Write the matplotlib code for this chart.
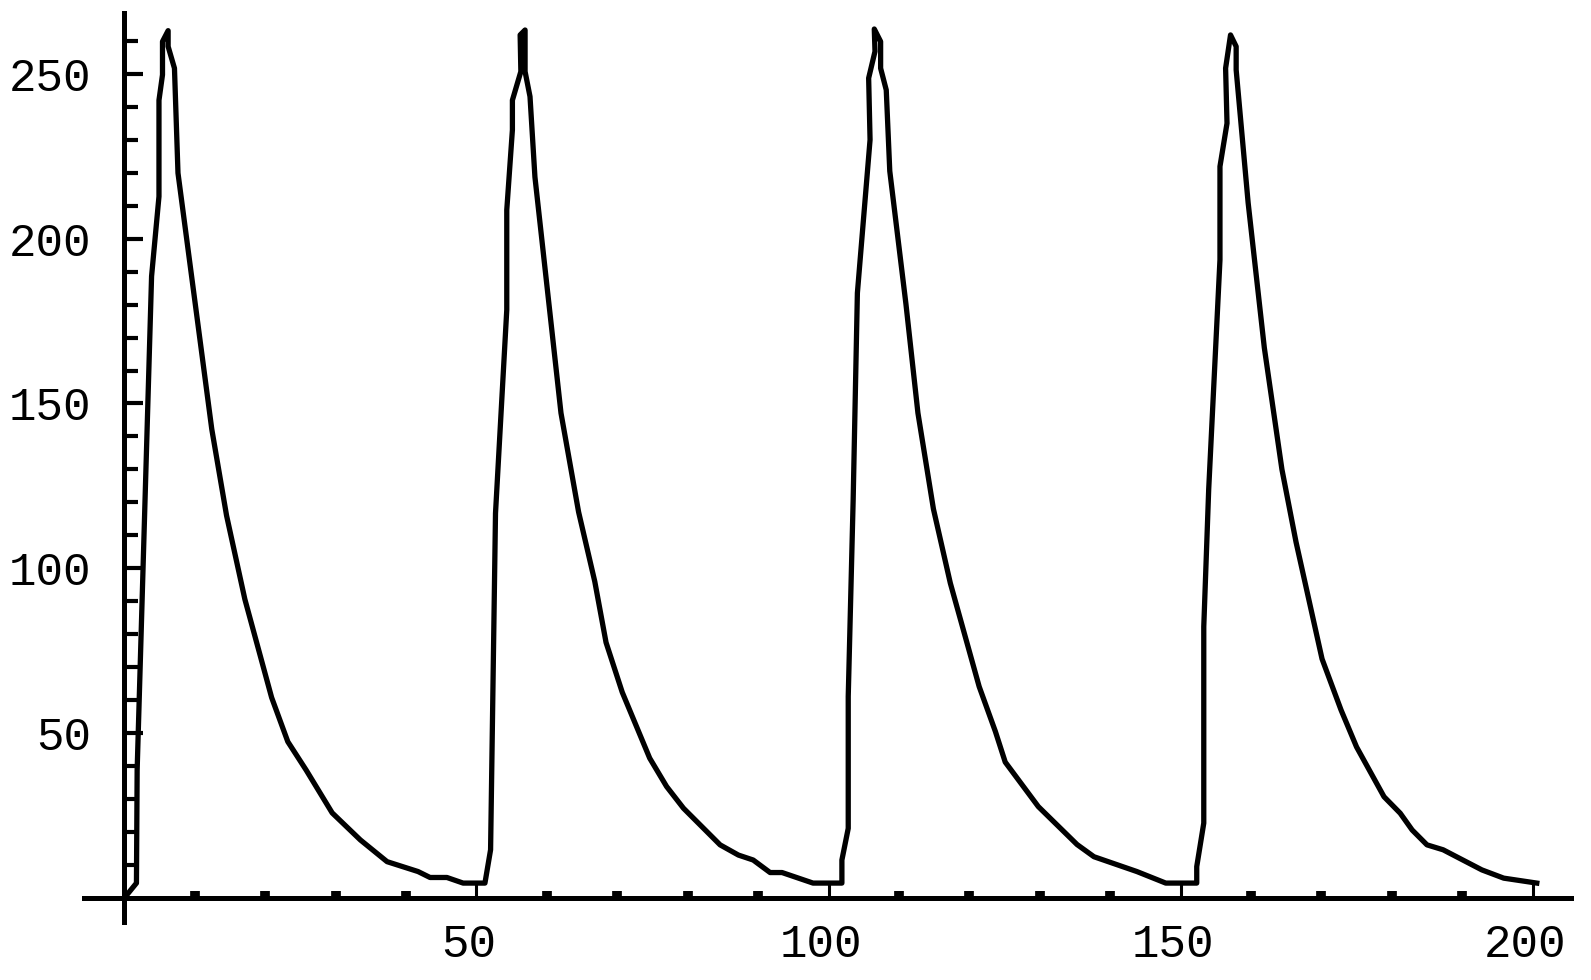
import matplotlib
matplotlib.use("Agg")
import matplotlib.pyplot as plt
import matplotlib.transforms as mtransforms
import numpy as np

# 4 pulses, each ~50 units long
t = [0.1, 1.7, 1.8, 3.85, 4.9, 4.9, 5.4, 5.4, 6.2, 6.2, 7.1, 7.6,
     12.4, 14.5, 17.1, 20.9, 23.2, 25.8, 29.5, 33.5, 37.3, 41.7, 43.4, 45.8, 48.1, 51.2,
     52.0, 52.7, 54.3, 54.3, 55.1, 55.1, 56.3, 56.2, 56.9, 56.9, 57.6, 58.3,
     62.0, 64.5, 66.8, 68.4, 70.7, 74.6, 77.0, 79.4, 84.6, 87.2, 89.3, 91.7, 93.4, 97.8, 101.9,
     101.9, 102.8, 102.8, 103.5, 104.1, 105.9, 105.7, 106.6, 106.5, 107.4, 107.4, 108.2, 108.7,
     111.0, 112.7, 114.9, 117.3, 121.4, 123.7, 125.1, 129.8, 135.3, 137.7, 143.8, 147.9, 152.3,
     152.3, 153.3, 153.3, 154.0, 155.6, 155.6, 156.6, 156.4, 157.1, 157.9, 157.9,
     159.6, 161.9, 164.4, 166.4, 170.1, 172.8, 175.0, 178.9, 181.2, 182.9, 185.0, 187.3,
     192.8, 195.9, 200.6]
v = [0.3, 4.5, 38.8, 188.6, 212.8, 242.0, 249.7, 259.8, 263.1, 258.3, 251.7, 219.9,
     142.2, 116.0, 90.6, 60.8, 47.4, 38.8, 25.8, 17.6, 11.0, 8.0, 6.2, 6.2, 4.5, 4.5,
     14.6, 116.7, 178.4, 208.7, 233.0, 242.0, 250.7, 261.8, 263.3, 250.7, 243.1, 218.7,
     147.1, 117.1, 96.0, 77.5, 62.4, 42.4, 33.8, 27.2, 16.1, 13.0, 11.5, 7.7, 7.7, 4.5, 4.5,
     11.5, 21.1, 61.1, 120.8, 183.5, 230.0, 248.7, 256.8, 263.6, 259.8, 251.7, 245.1, 220.5,
     180.1, 147.1, 118.0, 95.5, 64.1, 50.5, 41.2, 27.7, 16.2, 12.5, 8.0, 4.5, 4.5,
     9.5, 22.7, 82.3, 124.0, 193.6, 221.9, 235.0, 251.7, 261.8, 258.3, 251.2,
     210.9, 166.9, 130.0, 108.0, 72.5, 57.0, 45.8, 30.7, 25.7, 20.6, 16.1, 14.6,
     8.5, 6.0, 4.5]

xmajor = [50, 100, 150, 200]
xminor = [10, 20, 30, 40, 60, 70, 80, 90, 110, 120, 130, 140, 160, 170, 180, 190]
ymajor = [50, 100, 150, 200, 250]
yminor = [10, 20, 30, 40, 60, 70, 80, 90, 110, 120, 130, 140, 160, 170, 180, 190,
          210, 220, 230, 240, 260]

fig = plt.figure(figsize=(15.91, 9.80), dpi=100)
ax = fig.add_axes([0, 0, 1, 1])
ax.set_xlim(-17.68, 208.3)
ax.set_ylim(-24.9, 272.4)

ax.plot(t, v, color="black", lw=3.8, solid_joinstyle="round")

# mathematica style axes through the origin
for s in ["top", "right"]:
    ax.spines[s].set_visible(False)
ax.spines["left"].set_position(("data", 0))
ax.spines["bottom"].set_position(("data", 0))
ax.spines["left"].set_bounds(-7.4, 268.5)
ax.spines["bottom"].set_bounds(-5.7, 205.4)
ax.spines["left"].set_linewidth(3.6)
ax.spines["bottom"].set_linewidth(3.6)

ax.set_xticks(xmajor)
ax.set_xticklabels([str(i) for i in xmajor])
ax.set_xticks(xminor, minor=True)
ax.set_yticks(ymajor)
ax.set_yticklabels([str(i) for i in ymajor])
ax.set_yticks(yminor, minor=True)

ax.tick_params(axis="x", which="major", direction="in", length=11, width=2.2, pad=18)
ax.tick_params(axis="x", which="minor", direction="in", length=5, width=7)
ax.tick_params(axis="y", which="major", direction="in", length=14, width=3, pad=24)
ax.tick_params(axis="y", which="minor", direction="in", length=10, width=3)

for lab in ax.get_xticklabels() + ax.get_yticklabels():
    lab.set_fontfamily("Liberation Mono")
    lab.set_fontsize(33)
# labels sit a little left of their ticks in the original
shift = mtransforms.ScaledTranslation(-8 / 100, 0, fig.dpi_scale_trans)
for lab in ax.get_xticklabels():
    lab.set_transform(lab.get_transform() + shift)

fig.savefig("out.png", dpi=100, facecolor="white")
